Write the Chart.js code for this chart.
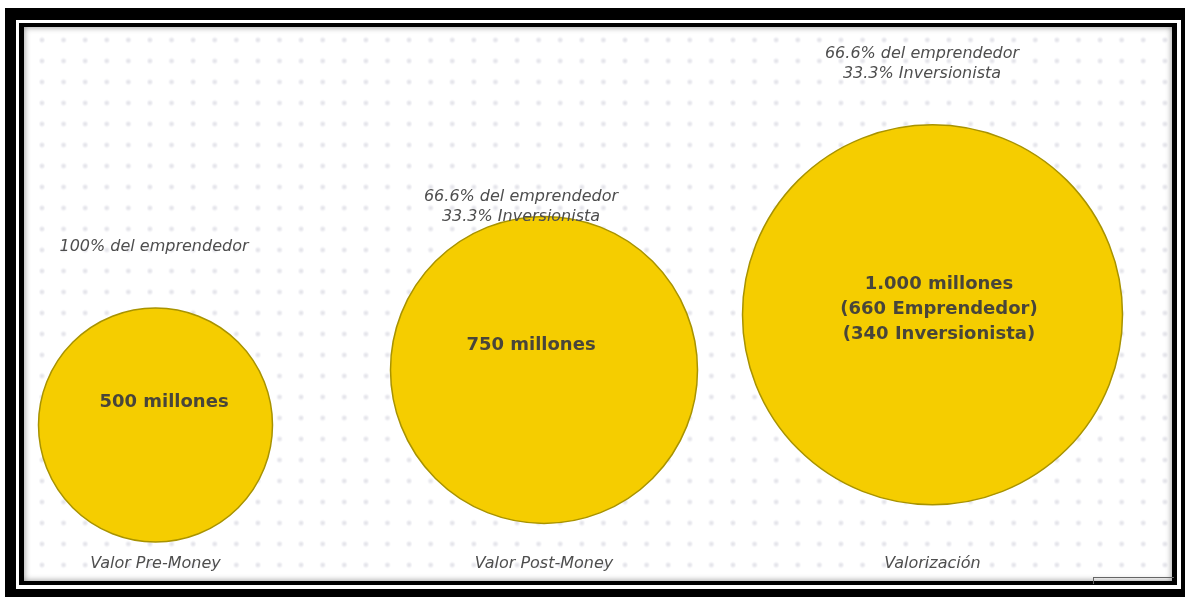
<!DOCTYPE html>
<html>
<head>
<meta charset="utf-8">
<script src="https://cdn.jsdelivr.net/npm/chart.js@4"></script>
<style>
    html, body { margin: 0; padding: 0; background: #fff; width: 1185px; height: 599px; overflow: hidden; }
    .frame-outer { position: absolute; left: 5px; top: 8px; width: 1180px; height: 589px; background: #000; }
    .frame-line { position: absolute; left: 16px; top: 20px; width: 1165px; height: 569px; background: #fff; }
    .frame-inner { position: absolute; left: 19px; top: 23px; width: 1158px; height: 562px; background: #000; }
    .slide {
        position: absolute; left: 24px; top: 27px; width: 1148px; height: 554px;
        overflow: hidden;
        background-color: #fff;
        background-image: radial-gradient(circle, rgba(200,200,210,0.6) 0, rgba(210,210,222,0.4) 1.8px, rgba(255,255,255,0) 3.4px);
        background-size: 21.6px 21px;
        background-position: 7.2px 2.5px;
        box-shadow: inset 0 0 6px rgba(0,0,0,0.45);
    }
    .slide canvas { position: absolute; left: 0; top: 0; }
    .player-box { position: absolute; left: 1093px; top: 577px; width: 80px; height: 6px; border-top: 1px solid #666; border-left: 1px solid #666; }
</style>
</head>
<body>
<div class="frame-outer"></div>
<div class="frame-line"></div>
<div class="frame-inner"></div>
<div class="slide"><canvas id="valuationChart" width="1148" height="566"></canvas></div>
<div class="player-box"></div>
<script>
// Stages of the round
const categories = ['Valor Pre-Money', 'Valor Post-Money', 'Valorización'];
// Company value, millones
const values = [500, 750, 1000];
// Text inside each circle
const innerLabels = [
    ['500 millones'],
    ['750 millones'],
    ['1.000 millones', '(660 Emprendedor)', '(340 Inversionista)']
];
// Ownership note above each circle
const ownershipNotes = [
    ['100% del emprendedor'],
    ['66.6% del emprendedor', '33.3% Inversionista'],
    ['66.6% del emprendedor', '33.3% Inversionista']
];

const YELLOW = '#f5cd00';
const TEXT_GREY = '#4e4e4e';
const TEXT_DARK = '#48453a';

// label offsets from the bubble centre (px)
const innerOffsets = [{ dx: 8.5, dy: -23 }, { dx: -13, dy: -25 }, { dx: 6.5, dy: -30 }];
const noteOffsets = [{ dx: -1.5, dy: -178 }, { dx: -23, dy: -173 }, { dx: -10.5, dy: -261 }];

const bubbleText = {
    id: 'bubbleText',
    afterDatasetsDraw(chart) {
        const ctx = chart.ctx;
        const meta = chart.getDatasetMeta(0);
        ctx.save();
        ctx.textAlign = 'center';
        ctx.textBaseline = 'middle';
        meta.data.forEach((el, i) => {
            ctx.fillStyle = TEXT_DARK;
            ctx.font = 'bold 18px "DejaVu Sans"';
            innerLabels[i].forEach((line, j) => {
                ctx.fillText(line, el.x + innerOffsets[i].dx, el.y + innerOffsets[i].dy + j * 25);
            });
            ctx.fillStyle = TEXT_GREY;
            ctx.font = 'italic 16px "DejaVu Sans"';
            ownershipNotes[i].forEach((line, j) => {
                ctx.fillText(line, el.x + noteOffsets[i].dx, el.y + noteOffsets[i].dy + j * 20);
            });
        });
        ctx.restore();
    }
};

new Chart(document.getElementById('valuationChart'), {
    type: 'bubble',
    data: {
        labels: categories,
        datasets: [{
            data: values.map((v, i) => ({ x: i, y: v })),
            backgroundColor: YELLOW,
            borderColor: '#a89300',
            borderWidth: 1.5,
            // bubble size grows with value
            radius: ctx => 44 + 0.146 * values[ctx.dataIndex],
            clip: false
        }]
    },
    options: {
        responsive: false,
        animation: false,
        events: [],
        layout: {
            autoPadding: false,
            padding: { left: 131.5, right: 239.5, top: 1, bottom: 0.5 }
        },
        scales: {
            x: {
                type: 'category',
                offset: false,
                grid: { display: false, drawTicks: false },
                border: { display: false },
                ticks: {
                    padding: 19,
                    color: TEXT_GREY,
                    font: { family: 'DejaVu Sans', size: 16, style: 'italic' }
                }
            },
            y: {
                display: false,
                min: 0,
                max: 2300
            }
        },
        plugins: {
            legend: { display: false },
            tooltip: { enabled: false }
        }
    },
    plugins: [bubbleText]
});
</script>
</body>
</html>
